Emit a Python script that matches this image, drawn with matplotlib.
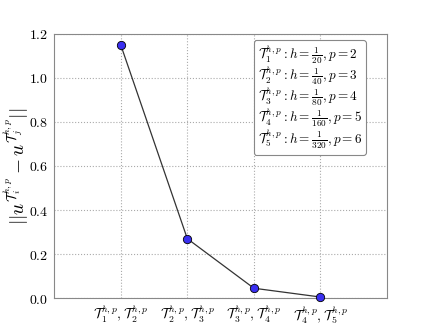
import matplotlib
matplotlib.use("Agg")
import matplotlib.pyplot as plt
from matplotlib.lines import Line2D

plt.rcParams["mathtext.fontset"] = "cm"
plt.rcParams["font.family"] = "serif"
plt.rcParams["font.serif"] = ["DejaVu Serif"]

# pairs of consecutive meshes and the norm of the difference
pairs = [1, 2, 3, 4]
errors = [1.15, 0.27, 0.045, 0.005]
tick_labels = [r"$\mathcal{T}_%d^{h,p},\mathcal{T}_%d^{h,p}$" % (i, i + 1) for i in pairs]
ytick_values = [0.0, 0.2, 0.4, 0.6, 0.8, 1.0, 1.2]
mesh_h = ["20", "40", "80", "160", "320"]
mesh_p = [2, 3, 4, 5, 6]

fig = plt.figure(figsize=(4.3, 3.32), dpi=100)
ax = fig.add_axes([0.126, 0.102, 0.774, 0.796])

ax.plot(pairs, errors, color="#333333", lw=0.9, marker="o", markersize=6,
        markerfacecolor="#3a2ff0", markeredgecolor="black", markeredgewidth=0.6,
        clip_on=False, zorder=3)

ax.set_xlim(0, 5)
ax.set_ylim(0, 1.2)
ax.set_xticks(pairs)
ax.set_xticklabels(tick_labels, fontsize=10)
ax.set_yticks(ytick_values)
ax.set_yticklabels(["$%.1f$" % v for v in ytick_values], fontsize=10)
ax.tick_params(length=0, pad=4)
ax.grid(True, color="#aaaaaa", linestyle=":", linewidth=0.8)
for s in ax.spines.values():
    s.set_color("#888888")

ax.set_ylabel(r"$||u^{\mathcal{T}_i^{h,p}} - u^{\mathcal{T}_j^{h,p}}||$", fontsize=14)
ax.yaxis.set_label_coords(-0.07, 0.5)

labels = [r"$\mathcal{T}_%d^{h,p}: h = \frac{1}{%s}, p = %d$" % (i + 1, h, p)
          for i, (h, p) in enumerate(zip(mesh_h, mesh_p))]
handles = [Line2D([], [], linestyle="none") for _ in labels]
leg = ax.legend(handles, labels, loc="upper right", fontsize=9.5, handlelength=0,
                handletextpad=0, labelspacing=-0.12, borderpad=0.3, borderaxespad=0,
                bbox_to_anchor=(0.937, 0.977), fancybox=True, framealpha=1,
                edgecolor="#888888")
leg.get_frame().set_linewidth(0.8)

fig.savefig("out.png", dpi=100)
